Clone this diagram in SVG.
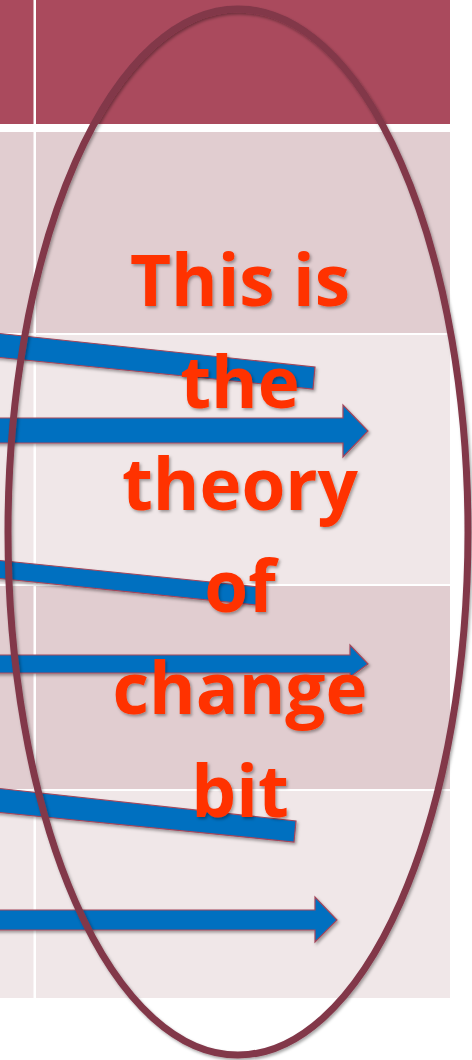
<svg xmlns="http://www.w3.org/2000/svg" width="472" height="1060" viewBox="0 0 472 1060">
<style>
.hdr{fill:#AA4A5D}
.rowA{fill:#E1CDD0}
.rowB{fill:#F0E7E8}
.arrow{fill:#0070C0;stroke:#A3465A;stroke-width:1.2;stroke-linejoin:miter}
.lbl{font-family:"Open Sans","Liberation Sans",sans-serif;font-weight:bold;font-size:71px;fill:#FF3300;text-anchor:middle}
</style>
<defs>
<filter id="sh" x="-10%" y="-10%" width="130%" height="130%">
<feDropShadow dx="1.5" dy="2" stdDeviation="1.5" flood-color="#000" flood-opacity="0.35"/>
</filter>
</defs>
<g id="table">
<rect x="0" y="0" width="450" height="124" class="hdr"/>
<rect x="0" y="132" width="450" height="201" class="rowA"/>
<rect x="0" y="335" width="450" height="249" class="rowB"/>
<rect x="0" y="586" width="450" height="203" class="rowA"/>
<rect x="0" y="791" width="450" height="207" class="rowB"/>
<rect x="33.5" y="0" width="2.5" height="998" fill="#FFFFFF"/>
</g>
<g id="connectors" filter="url(#sh)">
<polygon class="arrow" points="-5,333 315,367 313,389 -5,357"/>
<polygon class="arrow" points="-5,418 343,418 343,405 368,431 343,457 343,443 -5,443"/>
<polygon class="arrow" points="-5,560 259,587 257,605 -5,578"/>
<polygon class="arrow" points="-5,655 350,655 350,645 368,664 350,677 350,673 -5,673"/>
<polygon class="arrow" points="-5,788 296,821 294,842 -5,812"/>
<polygon class="arrow" points="-5,910 315,910 315,897 337,920 315,942 315,930 -5,930"/>
</g>
<g id="ellipse" filter="url(#sh)">
<ellipse cx="238" cy="532" rx="230" ry="523" fill="none" stroke="#82384A" stroke-width="7"/>
</g>
<g id="label" filter="url(#sh)">
<text class="lbl" x="240" y="306">This is</text>
<text class="lbl" x="240" y="408">the</text>
<text class="lbl" x="240" y="510">theory</text>
<text class="lbl" x="240" y="612">of</text>
<text class="lbl" x="240" y="714">change</text>
<text class="lbl" x="240" y="817">bit</text>
</g>
</svg>
